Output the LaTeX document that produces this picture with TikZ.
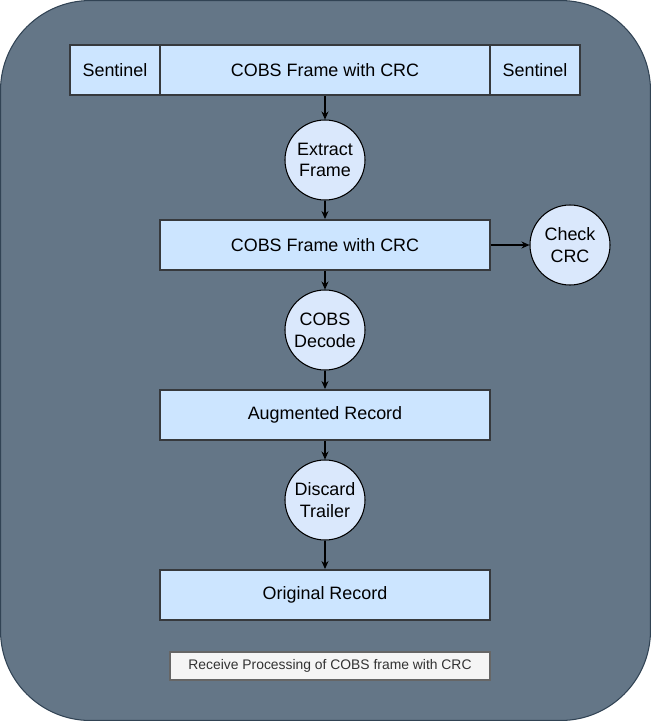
\documentclass[tikz,border=0pt]{standalone}
\usepackage{fontspec}
\setmainfont{Liberation Sans}
\usetikzlibrary{arrows.meta}

\begin{document}
\begin{tikzpicture}[
  field/.style={rectangle,draw=fieldline,fill=fieldfill,line width=1.1pt,minimum height=1cm,inner sep=0pt,font=\fontsize{10.2}{12}\selectfont},
  stage/.style={circle,draw=black,fill=stagefill,line width=.6pt,minimum size=1.6cm,inner sep=0pt,align=center,font=\fontsize{10.2}{12.4}\selectfont},
  flow/.style={-{Stealth[length=1.6mm,width=1.4mm]},draw=black,line width=.6pt}
]
\definecolor{slate}{HTML}{647687}
\definecolor{slatedark}{HTML}{314354}
\definecolor{fieldfill}{HTML}{CCE5FF}
\definecolor{fieldline}{HTML}{36393D}
\definecolor{stagefill}{HTML}{DAE8FC}
\useasboundingbox (0,0) rectangle (13.02,-14.42);
\fill[slate,draw=slatedark,line width=.6pt,rounded corners=1.8cm] (0.01,-0.01) rectangle (13.01,-14.41);

\node[field,minimum width=1.8cm] (SL) at (2.3,-1.4) {Sentinel};
\node[field,minimum width=6.6cm] (FR) at (6.5,-1.4) {COBS Frame with CRC};
\node[field,minimum width=1.8cm] (SR) at (10.7,-1.4) {Sentinel};

\node[stage] (EX) at (6.5,-3.2) {Extract\\Frame};
\node[field,minimum width=6.6cm] (CF) at (6.5,-4.9) {COBS Frame with CRC};
\node[stage] (CK) at (11.4,-4.9) {Check\\CRC};
\node[stage] (DC) at (6.5,-6.6) {COBS\\Decode};
\node[field,minimum width=6.6cm] (AR) at (6.5,-8.3) {Augmented Record};
\node[stage] (DT) at (6.5,-10.0) {Discard\\Trailer};
\node[field,minimum width=6.6cm] (OR) at (6.5,-11.9) {Original Record};

\node[rectangle,draw=black!60,fill=black!4,line width=.6pt,minimum width=6.4cm,minimum height=.56cm,inner sep=0pt,font=\fontsize{7.9}{9}\selectfont,text=black!80] (CAP) at (6.6,-13.32) {Receive Processing of COBS frame with CRC};

\draw[flow] (FR) -- (EX);
\draw[flow] (EX) -- (CF);
\draw[flow] (CF) -- (CK);
\draw[flow] (CF) -- (DC);
\draw[flow] (DC) -- (AR);
\draw[flow] (AR) -- (DT);
\draw[flow] (DT) -- (OR);
\end{tikzpicture}
\end{document}
